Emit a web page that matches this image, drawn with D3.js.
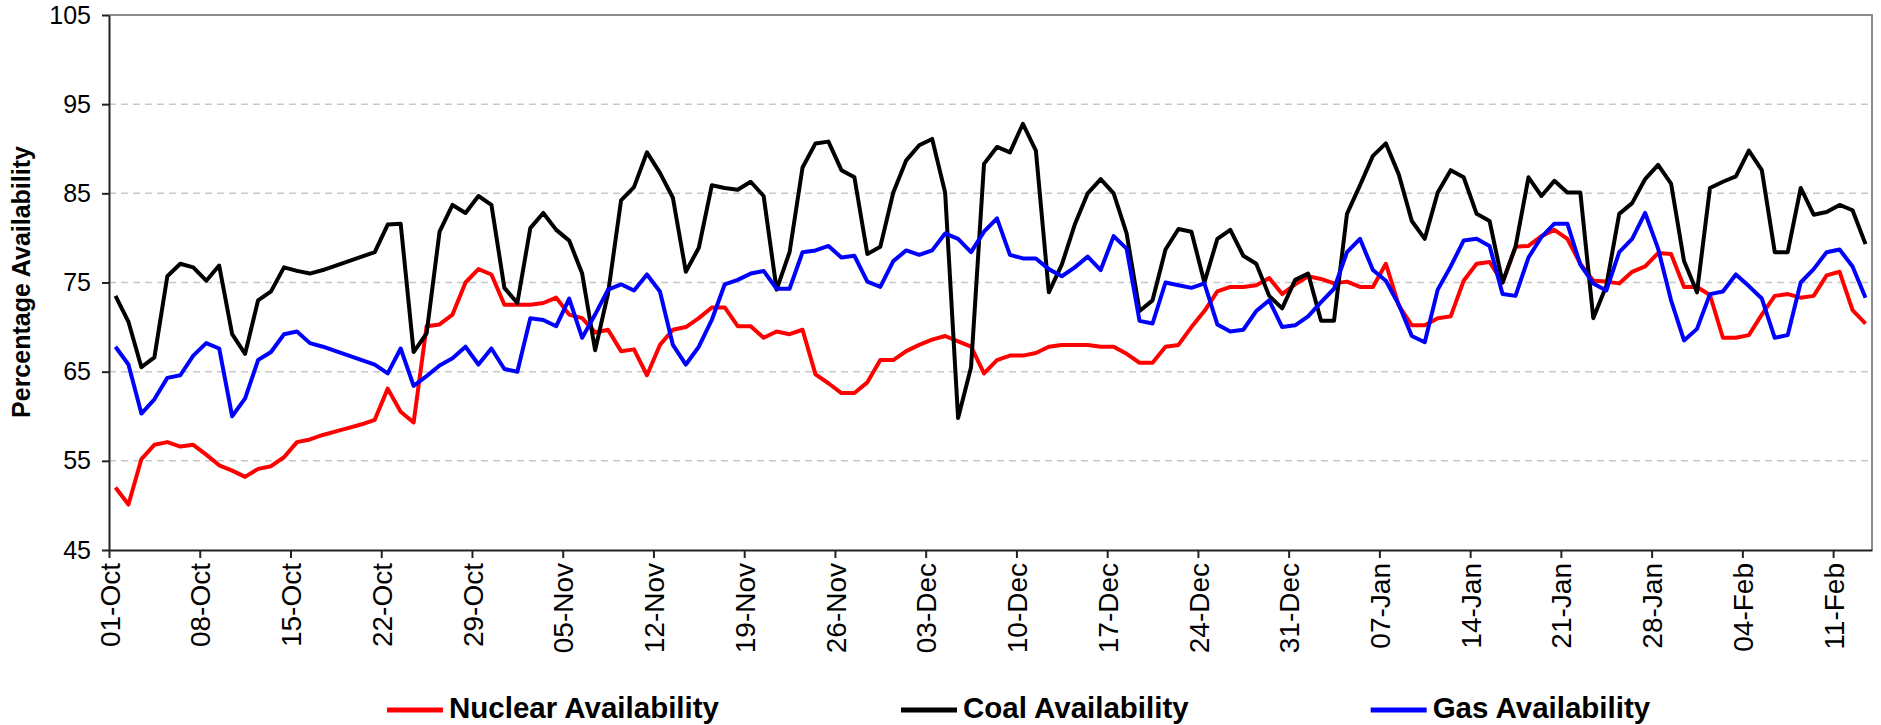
<!DOCTYPE html>
<html>
<head>
<meta charset="utf-8">
<script src="https://cdn.jsdelivr.net/npm/d3@7"></script>
<style>
  body { margin: 0; background: #fff; }
  text { font-family: Arial, "Liberation Sans", sans-serif; }
</style>
</head>
<body>
<div id="chart"></div>
<script>
// Daily availability, 01-Oct .. 13-Feb
var nuclear = [
  52.0, 50.1, 55.2, 56.8, 57.1, 56.6, 56.8, 55.7, 54.5, 53.9, 53.2, 54.1, 54.4, 55.4, 57.1, 57.4,
  57.9, 58.3, 58.7, 59.1, 59.6, 63.1, 60.5, 59.3, 70.1, 70.3, 71.4, 75.0, 76.5, 75.9, 72.5, 72.5,
  72.5, 72.7, 73.3, 71.4, 71.0, 69.4, 69.7, 67.3, 67.5, 64.6, 68.0, 69.7, 70.0, 71.0, 72.2, 72.2,
  70.1, 70.1, 68.8, 69.5, 69.2, 69.7, 64.7, 63.7, 62.6, 62.6, 63.8, 66.3, 66.3, 67.3, 68.0, 68.6,
  69.0, 68.4, 67.8, 64.8, 66.3, 66.8, 66.8, 67.1, 67.8, 68.0, 68.0, 68.0, 67.8, 67.8, 67.0, 66.0,
  66.0, 67.8, 68.0, 70.0, 71.8, 74.0, 74.5, 74.5, 74.7, 75.5, 73.7, 74.8, 75.7, 75.4, 74.9, 75.1,
  74.5, 74.5, 77.1, 72.4, 70.2, 70.2, 71.0, 71.2, 75.2, 77.1, 77.3, 75.0, 79.0, 79.1, 80.2, 80.9,
  79.9, 77.1, 75.2, 75.1, 74.9, 76.2, 76.8, 78.3, 78.2, 74.5, 74.5, 73.6, 68.8, 68.8, 69.1, 71.4,
  73.5, 73.7, 73.3, 73.5, 75.8, 76.2, 71.9, 70.4
];
var coal = [
  73.5, 70.6, 65.5, 66.6, 75.7, 77.1, 76.7, 75.2, 76.9, 69.2, 67.0, 73.0, 74.0, 76.7, 76.3, 76.0,
  76.4, 76.9, 77.4, 77.9, 78.4, 81.5, 81.6, 67.2, 69.3, 80.7, 83.7, 82.8, 84.7, 83.7, 74.4, 72.7,
  81.1, 82.8, 80.9, 79.7, 76.0, 67.4, 73.8, 84.2, 85.7, 89.6, 87.3, 84.5, 76.2, 78.9, 85.9, 85.6,
  85.4, 86.3, 84.7, 74.2, 78.4, 87.9, 90.6, 90.8, 87.6, 86.8, 78.2, 79.0, 85.1, 88.7, 90.4, 91.1,
  85.1, 59.8, 65.5, 88.3, 90.2, 89.6, 92.8, 89.8, 73.9, 77.0, 81.5, 85.0, 86.6, 85.0, 80.5, 71.8,
  73.0, 78.7, 81.0, 80.7, 75.0, 79.9, 80.9, 78.0, 77.1, 73.5, 72.1, 75.3, 76.0, 70.7, 70.7, 82.7,
  85.9, 89.2, 90.6, 87.1, 81.9, 79.9, 85.1, 87.6, 86.8, 82.7, 81.9, 75.0, 79.0, 86.8, 84.7, 86.4,
  85.1, 85.1, 71.0, 74.6, 82.7, 83.9, 86.6, 88.2, 86.1, 77.4, 73.9, 85.6, 86.3, 86.9, 89.8, 87.6,
  78.4, 78.4, 85.6, 82.6, 82.9, 83.7, 83.1, 79.3
];
var gas = [
  67.8, 65.8, 60.3, 61.9, 64.3, 64.6, 66.8, 68.2, 67.6, 60.0, 62.0, 66.3, 67.2, 69.2, 69.5, 68.2,
  67.8, 67.3, 66.8, 66.3, 65.8, 64.8, 67.6, 63.4, 64.5, 65.7, 66.5, 67.8, 65.8, 67.6, 65.3, 65.0,
  71.0, 70.8, 70.1, 73.2, 68.8, 71.4, 74.2, 74.8, 74.1, 75.9, 74.0, 68.0, 65.8, 67.8, 70.8, 74.8,
  75.3, 76.0, 76.3, 74.3, 74.3, 78.4, 78.6, 79.1, 77.8, 78.0, 75.1, 74.5, 77.4, 78.6, 78.1, 78.6,
  80.5, 79.9, 78.4, 80.7, 82.2, 78.1, 77.7, 77.7, 76.5, 75.7, 76.7, 77.9, 76.4, 80.2, 78.8, 70.7,
  70.4, 75.0, 74.7, 74.4, 74.9, 70.3, 69.5, 69.7, 71.8, 73.0, 70.0, 70.2, 71.2, 72.8, 74.3, 78.4,
  79.9, 76.4, 75.2, 72.5, 69.0, 68.3, 74.2, 76.8, 79.7, 79.9, 79.1, 73.7, 73.5, 77.8, 80.1, 81.6,
  81.6, 77.0, 74.9, 74.1, 78.4, 79.9, 82.8, 78.8, 73.0, 68.5, 69.8, 73.7, 74.0, 75.9, 74.6, 73.2,
  68.8, 69.1, 75.0, 76.5, 78.4, 78.7, 76.8, 73.3
];
var tickLabels = ['01-Oct', '08-Oct', '15-Oct', '22-Oct', '29-Oct', '05-Nov', '12-Nov', '19-Nov',
  '26-Nov', '03-Dec', '10-Dec', '17-Dec', '24-Dec', '31-Dec', '07-Jan', '14-Jan', '21-Jan',
  '28-Jan', '04-Feb', '11-Feb'];
var yTicks = [45, 55, 65, 75, 85, 95, 105];
var seriesNames = ['Nuclear Availability', 'Coal Availability', 'Gas Availability'];
var seriesColors = ['#ff0000', '#000000', '#0000ff'];

// Create SVG Element
var chart_width = 1881;
var chart_height = 725;
var plot = { left: 109, right: 1872, top: 15, bottom: 550 };

var svg = d3.select('#chart')
  .append('svg')
  .attr('width', chart_width)
  .attr('height', chart_height);

// Create scales
var xScale = d3.scaleLinear()
  .domain([0, nuclear.length])
  .range([plot.left, plot.right]);

var yScale = d3.scaleLinear()
  .domain([45, 105])
  .range([plot.bottom, plot.top]);

// Gridlines
svg.selectAll('.grid')
  .data(yTicks.slice(1, -1))
  .enter()
  .append('line')
  .attr('class', 'grid')
  .attr('x1', plot.left)
  .attr('x2', plot.right)
  .attr('y1', d => yScale(d))
  .attr('y2', d => yScale(d))
  .attr('stroke', '#c8c8c8')
  .attr('stroke-width', 1.5)
  .attr('stroke-dasharray', '7,5');

// Plot border (top and right)
svg.append('path')
  .attr('d', `M${plot.left},${yScale(105)}H${plot.right}V${plot.bottom}`)
  .attr('fill', 'none')
  .attr('stroke', '#8c8c8c')
  .attr('stroke-width', 2);

// Axes
var yAxis = d3.axisLeft(yScale)
  .tickValues(yTicks)
  .tickSize(7)
  .tickSizeOuter(0)
  .tickPadding(11);

var gy = svg.append('g')
  .attr('transform', `translate(${plot.left},0)`)
  .call(yAxis);
gy.selectAll('text')
  .attr('font-size', 25)
  .attr('fill', '#000');

var xAxis = d3.axisBottom(xScale)
  .tickValues(d3.range(0, tickLabels.length * 7, 7))
  .tickFormat((d, i) => tickLabels[i])
  .tickSize(8)
  .tickSizeOuter(0);

var gx = svg.append('g')
  .attr('transform', `translate(0,${plot.bottom})`)
  .call(xAxis);
gx.selectAll('text')
  .attr('font-size', 28)
  .attr('fill', '#000')
  .attr('text-anchor', 'end')
  .attr('transform', 'rotate(-90)')
  .attr('x', -13)
  .attr('y', 0)
  .attr('dy', '0.36em');

[gx, gy].forEach(g => {
  g.select('.domain').attr('stroke', '#222').attr('stroke-width', 2);
  g.selectAll('.tick line').attr('stroke', '#222').attr('stroke-width', 2);
});

// Y axis title
svg.append('text')
  .attr('transform', 'translate(21,282) rotate(-90)')
  .attr('text-anchor', 'middle')
  .attr('dy', '0.36em')
  .attr('font-size', 25)
  .attr('font-weight', 'bold')
  .text('Percentage Availability');

// Lines
var line = d3.line()
  .x((d, i) => xScale(i + 0.5))
  .y(d => yScale(d));

[nuclear, coal, gas].forEach((values, k) => {
  svg.append('path')
    .datum(values)
    .attr('d', line)
    .attr('fill', 'none')
    .attr('stroke', seriesColors[k])
    .attr('stroke-width', 4)
    .attr('stroke-linejoin', 'round');
});

// Legend
var legendX = 387;
seriesNames.forEach((name, k) => {
  svg.append('line')
    .attr('x1', legendX)
    .attr('x2', legendX + 56)
    .attr('y1', 710)
    .attr('y2', 710)
    .attr('stroke', seriesColors[k])
    .attr('stroke-width', 5);
  var t = svg.append('text')
    .attr('x', legendX + 62)
    .attr('y', 718)
    .attr('font-size', 29.5)
    .attr('font-weight', 'bold')
    .text(name);
  legendX += 62 + t.node().getComputedTextLength() + 182;
});
</script>
</body>
</html>
